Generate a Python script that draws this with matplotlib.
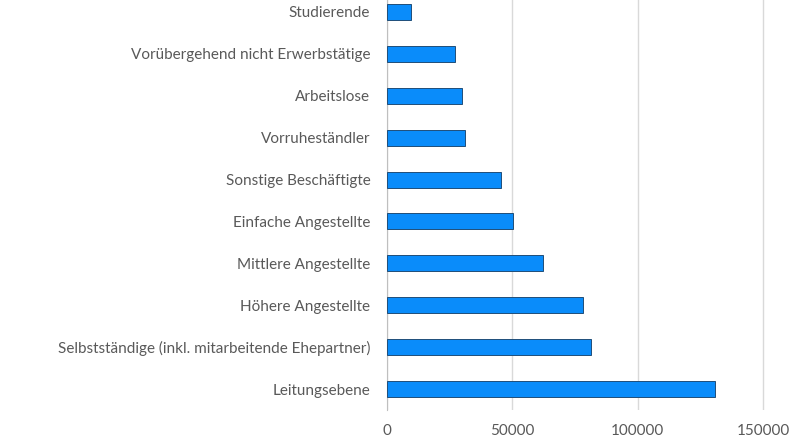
import matplotlib
matplotlib.use("Agg")
import matplotlib.pyplot as plt

kategorien = [
    "Leitungsebene",
    "Selbstständige (inkl. mitarbeitende Ehepartner)",
    "Höhere Angestellte",
    "Mittlere Angestellte",
    "Einfache Angestellte",
    "Sonstige Beschäftigte",
    "Vorruheständler",
    "Arbeitslose",
    "Vorübergehend nicht Erwerbstätige",
    "Studierende",
]
werte = [130800, 81300, 78100, 62400, 50300, 45400, 31000, 29900, 27100, 9600]
x_ticks = [0, 50000, 100000, 150000]

plt.rcParams['font.family'] = ['Lato', 'DejaVu Sans']

fig = plt.figure(figsize=(8, 4.45), dpi=100)
ax = fig.add_axes([0.48375, 0.0787, 0.51625, 0.9415])

pos = list(range(len(kategorien)))
ax.barh(pos, werte, height=0.38, color='#0A8CFA', edgecolor='#1F4E79', linewidth=0.7, zorder=3)

ax.set_yticks(pos)
ax.set_yticklabels(kategorien)
ax.set_ylim(-0.5, len(kategorien) - 0.5)
ax.set_xlim(0, 164800)
ax.set_xticks(x_ticks)
ax.set_xticklabels([str(t) for t in x_ticks])

ax.grid(axis='x', color='#D9D9D9', linewidth=1, zorder=0)
for s in ['top', 'right', 'bottom']:
    ax.spines[s].set_visible(False)
ax.spines['left'].set_color('#BFBFBF')
ax.tick_params(axis='both', length=0, colors='#595959', labelsize=11)
ax.tick_params(axis='y', pad=12)
ax.tick_params(axis='x', pad=10)

fig.savefig("out.png", dpi=100)
